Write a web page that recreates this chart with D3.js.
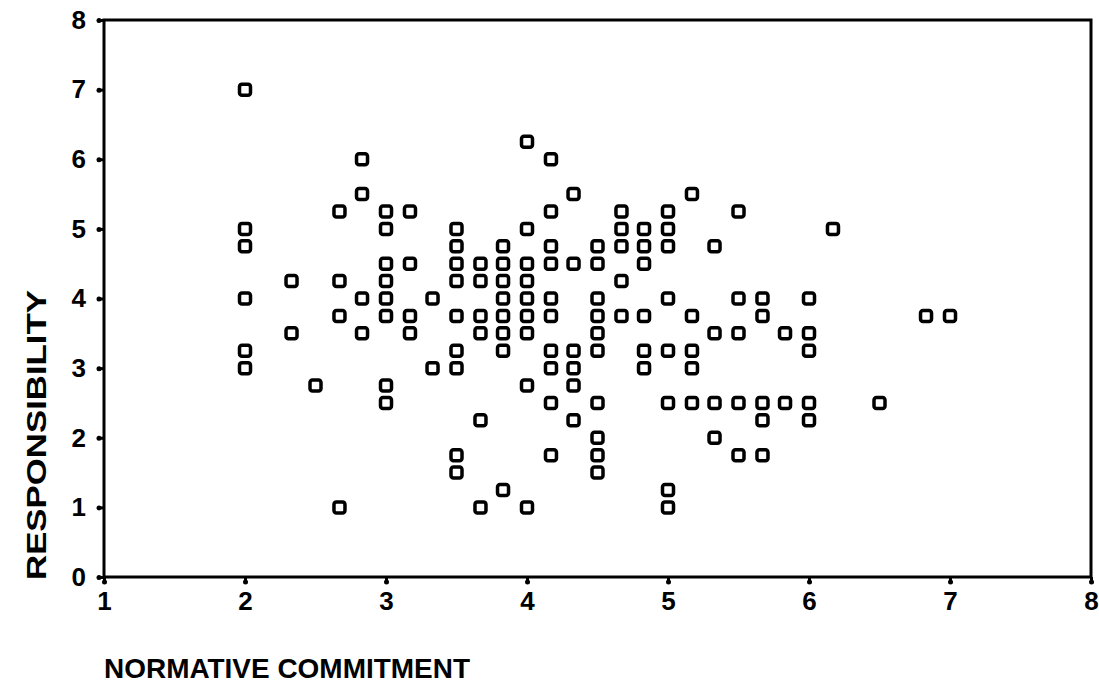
<!DOCTYPE html>
<html>
<head>
<meta charset="utf-8">
<script src="https://cdn.jsdelivr.net/npm/d3@7"></script>
<style>
  body { margin: 0; background: #fff; }
  text { font-family: "Liberation Sans", Arial, sans-serif; font-weight: bold; fill: #000; }
  .tick text { font-size: 26px; }
</style>
</head>
<body>
<div id="chart"></div>
<script>
// normative commitment (x) -> list of responsibility scores (y) at that x
var xValues = [2, 2.33, 2.5, 2.67, 2.83, 3, 3.17, 3.33, 3.5, 3.67, 3.83, 4, 4.17, 4.33,
               4.5, 4.67, 4.83, 5, 5.17, 5.33, 5.5, 5.67, 5.83, 6, 6.17, 6.5, 6.83, 7];
var yColumns = [
  [7, 5, 4.75, 4, 3.25, 3],
  [4.25, 3.5],
  [2.75],
  [5.25, 4.25, 3.75, 1],
  [6, 5.5, 4, 3.5],
  [5.25, 5, 4.5, 4.25, 4, 3.75, 2.75, 2.5],
  [5.25, 4.5, 3.75, 3.5],
  [4, 3],
  [5, 4.75, 4.5, 4.25, 3.75, 3.25, 3, 1.75, 1.5],
  [4.5, 4.25, 3.75, 3.5, 2.25, 1],
  [4.75, 4.5, 4.25, 4, 3.75, 3.5, 3.25, 1.25],
  [6.25, 5, 4.5, 4.25, 4, 3.75, 3.5, 2.75, 1],
  [6, 5.25, 4.75, 4.5, 4, 3.75, 3.25, 3, 2.5, 1.75],
  [5.5, 4.5, 3.25, 3, 2.75, 2.25],
  [4.75, 4.5, 4, 3.75, 3.5, 3.25, 2.5, 2, 1.75, 1.5],
  [5.25, 5, 4.75, 4.25, 3.75],
  [5, 4.75, 4.5, 3.75, 3.25, 3],
  [5.25, 5, 4.75, 4, 3.25, 2.5, 1.25, 1],
  [5.5, 3.75, 3.25, 3, 2.5],
  [4.75, 3.5, 2.5, 2],
  [5.25, 4, 3.5, 2.5, 1.75],
  [4, 3.75, 2.5, 2.25, 1.75],
  [3.5, 2.5],
  [4, 3.5, 3.25, 2.5, 2.25],
  [5],
  [2.5],
  [3.75],
  [3.75]
];
var xTicks = [1, 2, 3, 4, 5, 6, 7, 8];
var yTicks = [0, 1, 2, 3, 4, 5, 6, 7, 8];

var points = [];
xValues.forEach(function(xv, i) {
  yColumns[i].forEach(function(yv) { points.push({x: xv, y: yv}); });
});

var width = 1099, height = 700;
var plotLeft = 104, plotRight = 1091, plotTop = 20, plotBottom = 577;

var svg = d3.select("#chart").append("svg")
    .attr("width", width)
    .attr("height", height);

var x = d3.scaleLinear().domain([1, 8]).range([plotLeft, plotRight]);
var y = d3.scaleLinear().domain([0, 8]).range([plotBottom, plotTop]);

// frame around the plot
svg.append("rect")
    .attr("x", plotLeft).attr("y", plotTop)
    .attr("width", plotRight - plotLeft).attr("height", plotBottom - plotTop)
    .attr("fill", "none")
    .attr("stroke", "#000")
    .attr("stroke-width", 3);

// axes
var yAxis = svg.append("g")
    .attr("transform", "translate(" + plotLeft + ",0)")
    .call(d3.axisLeft(y).tickValues(yTicks).tickSize(5).tickPadding(13).tickFormat(d3.format("d")));
var xAxis = svg.append("g")
    .attr("transform", "translate(0," + plotBottom + ")")
    .call(d3.axisBottom(x).tickValues(xTicks).tickSize(5).tickPadding(10).tickFormat(d3.format("d")));

[xAxis, yAxis].forEach(function(ax) {
  ax.attr("font-size", 26).attr("font-family", "Liberation Sans, Arial, sans-serif");
  ax.select(".domain").remove();
  ax.selectAll(".tick line").attr("stroke", "#000").attr("stroke-width", 3);
  // little dot at the end of each tick, as in the scan
  ax.selectAll(".tick").append("circle")
    .attr("cx", ax === yAxis ? -5 : 0)
    .attr("cy", ax === yAxis ? 0 : 5)
    .attr("r", 2.5)
    .attr("fill", "#000");
  ax.selectAll(".tick text")
    .attr("fill", "#000")
    .attr("font-size", 26)
    .attr("font-weight", "bold");
});

// markers: hollow squares
svg.append("g").selectAll("rect")
    .data(points)
  .enter().append("rect")
    .attr("x", function(d) { return x(d.x) - 5.5; })
    .attr("y", function(d) { return y(d.y) - 5.5; })
    .attr("width", 11)
    .attr("height", 11)
    .attr("rx", 2.5)
    .attr("fill", "#fff")
    .attr("stroke", "#000")
    .attr("stroke-width", 3.5);

// axis titles
svg.append("text")
    .attr("transform", "translate(46,435) rotate(-90)")
    .attr("text-anchor", "middle")
    .attr("textLength", 290)
    .attr("lengthAdjust", "spacingAndGlyphs")
    .style("font-size", "27px")
    .text("RESPONSIBILITY");

svg.append("text")
    .attr("x", 104)
    .attr("y", 678)
    .attr("textLength", 366)
    .attr("lengthAdjust", "spacingAndGlyphs")
    .style("font-size", "28px")
    .text("NORMATIVE COMMITMENT");
</script>
</body>
</html>
